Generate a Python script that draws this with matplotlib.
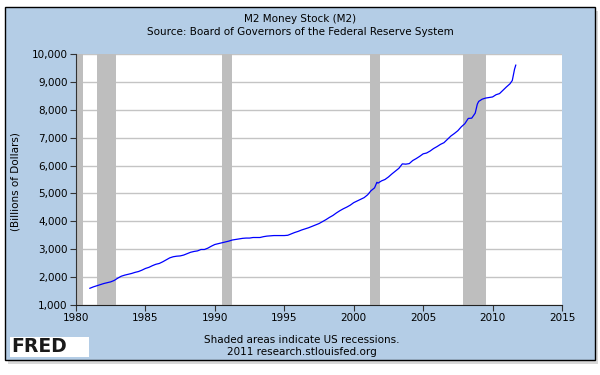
import matplotlib.pyplot as plt
from matplotlib.patches import Rectangle

# M2 money stock, billions of dollars
years = [1981.0, 1981.25, 1981.5, 1981.75, 1982.0, 1982.25, 1982.5, 1982.75,
         1983.0, 1983.25, 1983.5, 1983.75, 1984.0, 1984.25, 1984.5, 1984.75,
         1985.0, 1985.25, 1985.5, 1985.75, 1986.0, 1986.25, 1986.5, 1986.75,
         1987.0, 1987.25, 1987.5, 1987.75, 1988.0, 1988.25, 1988.5, 1988.75,
         1989.0, 1989.25, 1989.5, 1989.75, 1990.0, 1990.25, 1990.5, 1990.75,
         1991.0, 1991.25, 1991.5, 1991.75, 1992.0, 1992.25, 1992.5, 1992.75,
         1993.0, 1993.25, 1993.5, 1993.75, 1994.0, 1994.25, 1994.5, 1994.75,
         1995.0, 1995.25, 1995.5, 1995.75, 1996.0, 1996.25, 1996.5, 1996.75,
         1997.0, 1997.25, 1997.5, 1997.75, 1998.0, 1998.25, 1998.5, 1998.75,
         1999.0, 1999.25, 1999.5, 1999.75, 2000.0, 2000.25, 2000.5, 2000.75,
         2001.0, 2001.25, 2001.5, 2001.67, 2001.75, 2002.0, 2002.25, 2002.5, 2002.75,
         2003.0, 2003.25, 2003.5, 2003.75, 2004.0, 2004.25, 2004.5, 2004.75,
         2005.0, 2005.25, 2005.5, 2005.75, 2006.0, 2006.25, 2006.5, 2006.75,
         2007.0, 2007.25, 2007.5, 2007.75, 2008.0, 2008.25, 2008.5, 2008.75,
         2008.9, 2009.0, 2009.25, 2009.5, 2009.75, 2010.0, 2010.25, 2010.5, 2010.75,
         2011.0, 2011.25, 2011.42, 2011.5, 2011.58, 2011.67]
m2 = [1600, 1650, 1690, 1730, 1770, 1800, 1830, 1880,
      1960, 2030, 2070, 2100, 2130, 2170, 2200, 2250,
      2310, 2350, 2410, 2460, 2490, 2550, 2620, 2690,
      2730, 2750, 2760, 2790, 2840, 2890, 2920, 2940,
      2990, 2990, 3040, 3110, 3170, 3200, 3230, 3260,
      3290, 3330, 3350, 3370, 3390, 3400, 3400, 3420,
      3420, 3420, 3450, 3470, 3480, 3490, 3490, 3490,
      3490, 3500, 3550, 3600, 3640, 3690, 3730, 3770,
      3820, 3870, 3920, 3990, 4060, 4140, 4210, 4300,
      4380, 4450, 4510, 4580, 4670, 4730, 4790, 4850,
      4950, 5100, 5200, 5400, 5370, 5450, 5500, 5590, 5700,
      5800, 5900, 6060, 6050, 6070, 6180, 6250, 6330,
      6420, 6450, 6520, 6610, 6680, 6760, 6820, 6940,
      7060, 7150, 7250, 7390, 7500, 7690, 7700, 7880,
      8200, 8300, 8380, 8420, 8440, 8460, 8540, 8580, 8700,
      8820, 8930, 9050, 9250, 9450, 9600]

rec_start = [1980.0, 1981.5, 1990.5, 2001.2, 2007.9]
rec_end = [1980.5, 1982.9, 1991.2, 2001.9, 2009.5]

panel_color = "#b4cde6"

fig = plt.figure(figsize=(6, 3.75), dpi=100)
fig.patch.set_facecolor("white")

# drop shadow + blue panel
fig.patches.append(Rectangle((8 / 600, 1 - 364 / 375), 590 / 600, 353 / 375,
                             transform=fig.transFigure, facecolor="#d8d8d8",
                             edgecolor="none", zorder=0))
fig.patches.append(Rectangle((5 / 600, 1 - 360 / 375), 590 / 600, 353 / 375,
                             transform=fig.transFigure, facecolor=panel_color,
                             edgecolor="black", linewidth=1, zorder=1))

ax = fig.add_axes([76 / 600, 1 - 305 / 375, 486 / 600, 251 / 375])
ax.set_facecolor("white")
ax.set_zorder(2)

for s, e in zip(rec_start, rec_end):
    ax.axvspan(s, e, color="#bebebe", lw=0, zorder=1)

ax.plot(years, m2, color="#0000ff", lw=0.9, zorder=3)

ax.set_xlim(1980, 2015)
ax.set_ylim(1000, 10000)
ax.set_xticks(range(1980, 2016, 5))
ax.set_yticks(range(1000, 10001, 1000))
ax.set_yticklabels([f"{v:,}" for v in range(1000, 10001, 1000)])
ax.yaxis.grid(True, color="#c4c4c4", lw=1)
ax.set_axisbelow(True)
ax.tick_params(labelsize=7.5, length=4, color="#333333", pad=2)

for side in ["top", "right"]:
    ax.spines[side].set_visible(False)
ax.spines["left"].set_color("#333333")
ax.spines["bottom"].set_color("#222222")

fig.text(16 / 600, 1 - 182 / 375, "(Billions of Dollars)", rotation=90,
         ha="center", va="center", fontsize=7.5, zorder=3)

fig.text(0.5, 1 - 19 / 375, "M2 Money Stock (M2)", ha="center", va="center",
         fontsize=7.5, zorder=3)
fig.text(0.5, 1 - 32 / 375, "Source: Board of Governors of the Federal Reserve System",
         ha="center", va="center", fontsize=7.5, zorder=3)
fig.text(302 / 600, 1 - 340 / 375, "Shaded areas indicate US recessions.",
         ha="center", va="center", fontsize=7.5, zorder=3)
fig.text(302 / 600, 1 - 352 / 375, "2011 research.stlouisfed.org",
         ha="center", va="center", fontsize=7.5, zorder=3)

# FRED logo
fig.patches.append(Rectangle((10 / 600, 1 - 357 / 375), 79 / 600, 20 / 375,
                             transform=fig.transFigure, facecolor="white",
                             edgecolor="none", zorder=2))
fig.text(11 / 600, 1 - 347 / 375, "FRED", ha="left", va="center",
         fontsize=13.5, fontweight="heavy", color="#1a1a1a", zorder=3)
logo = fig.add_axes([71 / 600, 1 - 356 / 375, 16 / 600, 16 / 375])
logo.plot([0, 1, 2, 3, 4], [1, 2, 1.6, 3, 3.6], color="#6a9a5a", lw=0.8)
logo.plot([0, 1, 2, 3, 4], [0.6, 1.2, 1.9, 2.2, 3.0], color="#6d8fc0", lw=0.8)
logo.set_xlim(-0.2, 4.2)
logo.set_ylim(0, 4)
logo.axis("off")

fig.savefig("out.png", dpi=100)
